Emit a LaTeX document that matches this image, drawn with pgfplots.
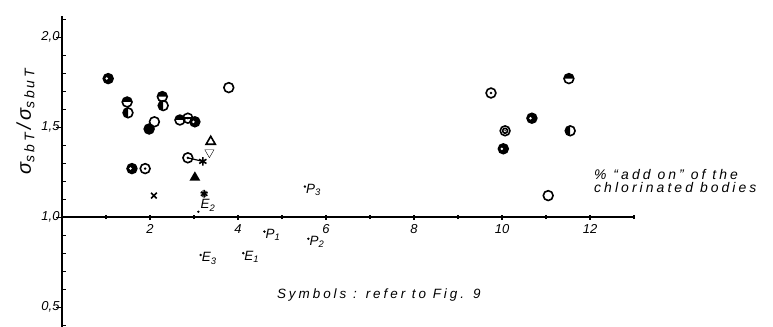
\documentclass[border=0pt]{standalone}
\usepackage{fontspec}
\setmainfont{Liberation Sans}
\newfontfamily\wide{Liberation Sans}[LetterSpace=22]
\usepackage{pgfplots}
\pgfplotsset{compat=1.18}
\usetikzlibrary{plotmarks}
\pgfdeclareplotmark{htop}{%
 \pgfpathmoveto{\pgfqpoint{-\pgfplotmarksize}{0pt}}%
 \pgfpatharc{180}{0}{\pgfplotmarksize}%
 \pgfpathclose\pgfusepathqfill
 \pgfpathcircle{\pgfpointorigin}{\pgfplotmarksize}\pgfusepathqstroke}
\pgfdeclareplotmark{hleft}{%
 \pgfpathmoveto{\pgfqpoint{0pt}{\pgfplotmarksize}}%
 \pgfpatharc{90}{270}{\pgfplotmarksize}%
 \pgfpathclose\pgfusepathqfill
 \pgfpathcircle{\pgfpointorigin}{\pgfplotmarksize}\pgfusepathqstroke}
\pgfdeclareplotmark{fspot}{%
 \pgfpathcircle{\pgfpointorigin}{\pgfplotmarksize}\pgfusepathqfillstroke
 \begin{pgfscope}\pgfsetfillcolor{white}%
 \pgfpathcircle{\pgfqpoint{-0.3\pgfplotmarksize}{0pt}}{0.28\pgfplotmarksize}\pgfusepathqfill
 \end{pgfscope}}
\pgfdeclareplotmark{odot}{%
 \pgfpathcircle{\pgfpointorigin}{\pgfplotmarksize}\pgfusepathqstroke
 \pgfpathcircle{\pgfpointorigin}{0.28\pgfplotmarksize}\pgfusepathqfill}
\pgfdeclareplotmark{dblc}{%
 \pgfpathcircle{\pgfpointorigin}{\pgfplotmarksize}\pgfusepathqstroke
 \pgfpathcircle{\pgfpointorigin}{0.5\pgfplotmarksize}\pgfusepathqstroke
 \pgfpathcircle{\pgfpointorigin}{0.16\pgfplotmarksize}\pgfusepathqfill}
\pgfdeclareplotmark{obar}{%
 \pgfpathcircle{\pgfpointorigin}{\pgfplotmarksize}\pgfusepathqstroke
 \pgfpathmoveto{\pgfqpoint{-\pgfplotmarksize}{0pt}}%
 \pgfpathlineto{\pgfqpoint{\pgfplotmarksize}{0pt}}\pgfusepathqstroke
 \pgfpathcircle{\pgfpointorigin}{0.28\pgfplotmarksize}\pgfusepathqfill}
\begin{document}
\begin{tikzpicture}
\pgfplotsset{
 mk/.style={only marks, black, mark=#1, mark size=4.9bp,
   mark options={solid, fill=black, draw=black, line width=1.6bp}},
 lab/.style={only marks, black, mark=*, mark size=1bp,
   nodes near coords, point meta=explicit symbolic,
   every node near coord/.style={anchor=north west, inner sep=0.5bp, yshift=3bp, xshift=0.5bp,
     font=\wide\itshape\fontsize{13.5}{13.5}\selectfont}},
}
\begin{axis}[
 at={(0,0)}, anchor=south west,
 x=44bp, y=180bp,
 xmin=0, xmax=13, ymin=0.39, ymax=2.12,
 axis y line=left, axis x line=none,
 y axis line style={-, line width=1.8bp},
 ytick={0.5,1,1.5,2},
 yticklabels={{0,5},{1,0},{1,5},{2,0}},
 minor ytick={0.4,0.6,0.7,0.8,0.9,1.1,1.2,1.3,1.4,1.6,1.7,1.8,1.9,2.1},
 tick align=inside,
 major tick length=6bp, minor tick length=4bp,
 every major tick/.append style={xshift=-6bp},
 tick style={black, line width=1.1bp},
 yticklabel style={font=\itshape\fontsize{13}{13}\selectfont, xshift=1bp},
 ylabel={σ\raisebox{-0.35ex}{\fontsize{14}{14}\selectfont sbT}\,/\,σ\raisebox{-0.35ex}{\fontsize{14}{14}\selectfont sbuT}},
 ylabel style={at={(ticklabel cs:0.65)}, font=\wide\itshape\fontsize{20}{20}\selectfont, xshift=3bp},
 clip=false,
]
\addplot[mk=fspot] coordinates {(1.05,1.77) (1.59,1.27) (3.02,1.53) (10.68,1.55) (10.03,1.38)};
\addplot[mk=htop] coordinates {(1.48,1.64) (2.28,1.67) (2.68,1.54) (11.52,1.77)};
\addplot[mk=hleft] coordinates {(1.50,1.58) (2.30,1.62) (11.55,1.48)};
\addplot[mk=odot] coordinates {(1.89,1.27) (2.86,1.33) (9.75,1.69)};
\addplot[mk=*] coordinates {(1.98,1.49)};
\addplot[mk=o] coordinates {(2.10,1.53) (3.79,1.72) (11.05,1.12)};
\addplot[mk=obar] coordinates {(2.86,1.55)};
\addplot[mk=dblc] coordinates {(10.07,1.48)};
\addplot[mk=x, mark size=4bp] coordinates {(2.09,1.12)};
\addplot[black, line width=1.2bp] coordinates {(2.86,1.33) (3.20,1.31)};
\addplot[mk=asterisk, mark size=4.2bp] coordinates {(3.20,1.31)};
\addplot[mk=triangle*, mark size=4.7bp] coordinates {(3.02,1.22)};
\addplot[mk=triangle, mark size=5.3bp] coordinates {(3.38,1.42)};
\addplot[mk=triangle, mark size=5.3bp, mark options={rotate=180}] coordinates {(3.35,1.36)};
\addplot[mk=asterisk, mark size=3.8bp] coordinates {(3.23,1.13)};
\addplot[mk=asterisk, mark size=3.8bp, mark options={rotate=30}] coordinates {(3.23,1.13)};
\addplot[lab] table[meta=lab] {
x y lab
3.15 0.79 E\textsubscript{3}
4.12 0.80 E\textsubscript{1}
4.60 0.92 P\textsubscript{1}
5.60 0.88 P\textsubscript{2}
5.52 1.17 P\textsubscript{3}
};
\addplot[lab, every node near coord/.append style={anchor=south west, yshift=-3bp, xshift=1bp}] table[meta=lab] {
x y lab
3.10 1.03 E\textsubscript{2}
};
\node[anchor=north west, align=left, inner sep=0pt, font=\wide\itshape\fontsize{14}{12.5}\selectfont]
  at (axis cs:12.09,1.265) {\% “add on” of the\\chlorinated bodies};
\node[font=\wide\itshape\fontsize{13.5}{13.5}\selectfont] at (axis cs:7.2,0.567) {Symbols : refer to Fig. 9};
\end{axis}
\begin{axis}[
 at={(0,0)}, anchor=south west,
 x=44bp, y=180bp,
 xmin=0, xmax=13, ymin=-0.61, ymax=1.12,
 axis x line=middle, axis y line=none,
 x axis line style={-, line width=1.8bp},
 xtick={2,4,6,8,10,12}, xticklabels={2,4,6,8,10,12},
 minor xtick={1,3,5,7,9,11,13},
 ytick=\empty,
 tick align=center, major tick length=5bp, minor tick length=4bp,
 tick style={black, line width=1.1bp},
 xticklabel style={font=\itshape\fontsize{13}{13}\selectfont, yshift=-1bp},
]
\end{axis}
\pgfresetboundingbox
\path[use as bounding box] (-62bp,0bp) rectangle (711bp,327bp);
\end{tikzpicture}
\end{document}
